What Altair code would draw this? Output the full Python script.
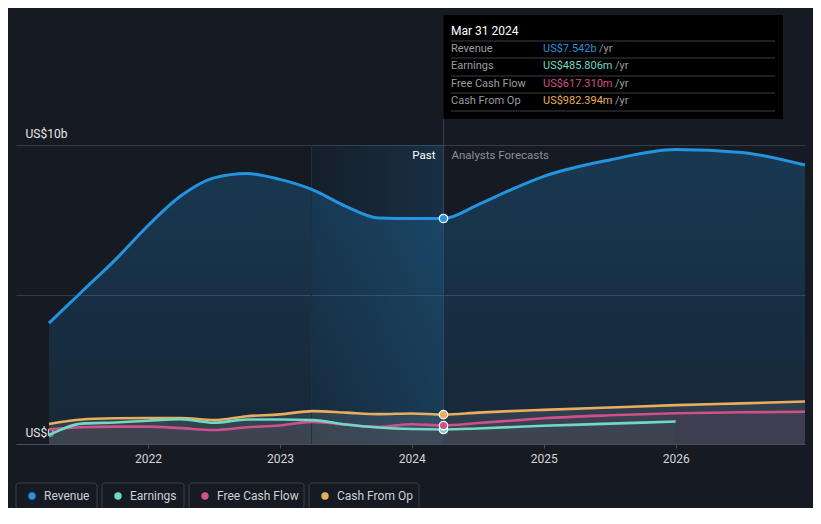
import altair as alt
import pandas as pd

# ---------------- data ----------------
dates = [2021.25, 2021.5, 2021.75, 2022.0, 2022.25, 2022.5, 2022.75, 2023.0, 2023.25,
         2023.5, 2023.75, 2024.0, 2024.24, 2024.5, 2024.75, 2025.0, 2025.5, 2026.0,
         2026.5, 2026.98]
revenue = [4.04, 5.1, 6.15, 7.3, 8.3, 8.9, 9.05, 8.85, 8.5, 7.95, 7.56, 7.54, 7.542,
           8.0, 8.5, 8.95, 9.5, 9.85, 9.75, 9.33]
fcf = [0.49, 0.56, 0.58, 0.58, 0.53, 0.47, 0.56, 0.62, 0.74, 0.65, 0.57, 0.66, 0.617,
       0.7, 0.78, 0.86, 0.96, 1.03, 1.06, 1.08]
cfo = [0.67, 0.82, 0.86, 0.87, 0.87, 0.8, 0.93, 0.99, 1.1, 1.05, 1.0, 1.02, 0.982,
       1.05, 1.1, 1.14, 1.22, 1.3, 1.36, 1.42]
earn_dates = [2021.25, 2021.5, 2021.75, 2022.0, 2022.25, 2022.5, 2022.75, 2023.0,
              2023.25, 2023.5, 2023.75, 2024.0, 2024.24, 2024.5, 2025.0, 2025.5, 2026.0]
earnings = [0.3, 0.68, 0.72, 0.78, 0.83, 0.71, 0.82, 0.82, 0.8, 0.65, 0.55, 0.5, 0.486,
            0.52, 0.61, 0.68, 0.75]

series_names = ["Revenue", "Earnings", "Free Cash Flow", "Cash From Op"]
series_colors = ["#2394df", "#6fd9c4", "#d0508a", "#e9ae5c"]
tooltip_date = "Mar 31 2024"
tooltip_values = ["US$7.542b", "US$485.806m", "US$617.310m", "US$982.394m"]
tooltip_point = [7.542, 0.486, 0.617, 0.982]
now = 2024.24
past_start = 2023.24
x_ticks = [2022, 2023, 2024, 2025, 2026]
y_ticks = [0, 5, 10]

# ---------------- layout (pixels, plot coordinates) ----------------
W, H = 789, 299
FONT = "Roboto"
BG = "#151a23"

rev_df = pd.DataFrame({"t": dates, "v": revenue})
fcf_df = pd.DataFrame({"t": dates, "v": fcf})
cfo_df = pd.DataFrame({"t": dates, "v": cfo})
earn_df = pd.DataFrame({"t": earn_dates, "v": earnings})

xscale = alt.Scale(domain=[2021.0, 2026.98], nice=False, zero=False)
yscale = alt.Scale(domain=[0, 10], nice=False)

xaxis = alt.Axis(values=x_ticks, format="d", title=None, grid=False,
                 labelColor="#d6d6d6", labelFontSize=12, labelFont=FONT,
                 tickColor="#4a505a", tickSize=4, domainColor="#4a505a",
                 labelPadding=5, labelFlush=False)
yaxis = alt.Axis(values=y_ticks, title=None, grid=True, gridColor="#353b45",
                 domain=False, ticks=False, tickSize=0,
                 labelExpr="datum.value == 10 ? 'US$10b' : (datum.value == 0 ? 'US$0' : '')",
                 labelAlign="left", labelBaseline="bottom", labelPadding=-9,
                 labelOffset=-5, labelFlush=False, labelColor="#e6e6e6",
                 labelFontSize=12, labelFont=FONT)

X = alt.X("t:Q", scale=xscale, axis=xaxis)
Y = alt.Y("v:Q", scale=yscale, axis=yaxis)

# past highlight region
hl_df = pd.DataFrame({"t": [past_start], "t2": [now], "v": [0], "v2": [10]})
highlight = alt.Chart(hl_df).mark_rect(
    color=alt.Gradient(gradient="linear", x1=0, x2=1, y1=0, y2=0,
                       stops=[alt.GradientStop(color="rgba(35,148,223,0.03)", offset=0),
                              alt.GradientStop(color="rgba(35,148,223,0.18)", offset=1)])
).encode(x=X, x2="t2:Q", y=Y, y2="v2:Q")

# revenue area + line
rev_area = alt.Chart(rev_df).mark_area(
    interpolate="monotone",
    color=alt.Gradient(gradient="linear", x1=1, x2=1, y1=0, y2=1,
                       stops=[alt.GradientStop(color="rgba(35,148,223,0.25)", offset=0),
                              alt.GradientStop(color="rgba(35,148,223,0.10)", offset=1)])
).encode(x=X, y=Y)

cfo_area = alt.Chart(cfo_df).mark_area(interpolate="monotone", color="#ffffff",
                                       opacity=0.10).encode(x=X, y=Y)
fcf_area = alt.Chart(fcf_df).mark_area(interpolate="monotone", color=series_colors[2],
                                       opacity=0.10).encode(x=X, y=Y)
earn_area = alt.Chart(earn_df).mark_area(interpolate="monotone", color="#3a4a50",
                                         opacity=0.5).encode(x=X, y=Y)

rev_line = alt.Chart(rev_df).mark_line(interpolate="monotone", color=series_colors[0],
                                       strokeWidth=3).encode(x=X, y=Y)
cfo_line = alt.Chart(cfo_df).mark_line(interpolate="monotone", color=series_colors[3],
                                       strokeWidth=2.6).encode(x=X, y=Y)
fcf_line = alt.Chart(fcf_df).mark_line(interpolate="monotone", color=series_colors[2],
                                       strokeWidth=2.6).encode(x=X, y=Y)
earn_line = alt.Chart(earn_df).mark_line(interpolate="monotone", color=series_colors[1],
                                         strokeWidth=2.6).encode(x=X, y=Y)

# vertical rules
start_rule = alt.Chart(pd.DataFrame({"t": [past_start]})).mark_rule(
    color="#22303f", strokeWidth=1).encode(x=X, y=alt.value(0), y2=alt.value(H))
now_rule = alt.Chart(pd.DataFrame({"t": [now]})).mark_rule(
    color="#34475a", strokeWidth=1).encode(x=X, y=alt.value(-26), y2=alt.value(H))

# points at "now"
pts_df = pd.DataFrame({"t": [now] * 4, "v": tooltip_point, "s": series_names})
points = alt.Chart(pts_df).mark_point(filled=True, size=70, stroke="#ffffff",
                                      strokeWidth=1.3, opacity=1).encode(
    x=X, y=Y,
    color=alt.Color("s:N", scale=alt.Scale(domain=series_names, range=series_colors),
                    legend=None),
    order=alt.Order("v:Q"))

# Past / Analysts Forecasts labels
lab_df = pd.DataFrame({"t": [now]})
past_lbl = alt.Chart(lab_df).mark_text(text="Past", align="right", dx=-8,
                                       baseline="middle", color="#ffffff",
                                       fontSize=11.5, font=FONT).encode(
    x=X, y=alt.value(11))
fc_lbl = alt.Chart(lab_df).mark_text(text="Analysts Forecasts", align="left", dx=8,
                                     baseline="middle", color="#8c9098",
                                     fontSize=11.5, font=FONT).encode(
    x=X, y=alt.value(11))

# tooltip box
tip_box = alt.Chart(lab_df).mark_rect(color="#000000").encode(
    x=X, x2=alt.value(767), y=alt.value(-130), y2=alt.value(-26))
tip_title = alt.Chart(pd.DataFrame({"txt": [tooltip_date]})).mark_text(
    align="left", baseline="middle", color="#ffffff", fontSize=12, font=FONT
).encode(text="txt:N", x=alt.value(435), y=alt.value(-114))
row_y = [-96, -79, -61, -44]
sep_y = [-104, -87, -69, -52, -34]
yr_x = [583, 599, 599, 599]
sep_df = pd.DataFrame({"y": sep_y})
tip_seps = alt.Chart(sep_df).mark_rule(color="#3c3f44", strokeWidth=1).encode(
    x=alt.value(435), x2=alt.value(759), y=alt.Y("y:Q", scale=None))
rows_df = pd.DataFrame({"name": series_names, "val": tooltip_values,
                        "c": series_colors, "y": row_y, "yx": yr_x})
tip_names = alt.Chart(rows_df).mark_text(align="left", baseline="middle",
                                         color="#9a9ca0", fontSize=11, font=FONT).encode(
    text="name:N", x=alt.value(435), y=alt.Y("y:Q", scale=None))
tip_vals = alt.Chart(rows_df).mark_text(align="left", baseline="middle",
                                        fontSize=11, font=FONT).encode(
    text="val:N", x=alt.value(527), y=alt.Y("y:Q", scale=None),
    color=alt.Color("c:N", scale=None))
tip_yr = alt.Chart(rows_df).mark_text(align="left", baseline="middle", text="/yr",
                                      color="#9a9ca0", fontSize=11, font=FONT).encode(
    x=alt.X("yx:Q", scale=None), y=alt.Y("y:Q", scale=None))

# custom legend (boxed items)
leg_x0 = [0, 86, 173, 293]
leg_x1 = [81, 168, 288, 403]
leg_df = pd.DataFrame({"name": series_names, "c": series_colors,
                       "x0": leg_x0, "x1": leg_x1,
                       "dx": [v + 16 for v in leg_x0], "tx": [v + 28 for v in leg_x0]})
leg_box = alt.Chart(leg_df).mark_rect(fill=BG, stroke="#3a3f49", strokeWidth=1,
                                      cornerRadius=3).encode(
    x=alt.X("x0:Q", scale=None), x2="x1:Q", y=alt.value(338), y2=alt.value(364))
leg_dot = alt.Chart(leg_df).mark_circle(size=55, opacity=1).encode(
    x=alt.X("dx:Q", scale=None), y=alt.value(351), color=alt.Color("c:N", scale=None))
leg_txt = alt.Chart(leg_df).mark_text(align="left", baseline="middle", color="#cfd0d3",
                                      fontSize=12, font=FONT).encode(
    x=alt.X("tx:Q", scale=None), y=alt.value(351), text="name:N")

chart = alt.layer(
    highlight, rev_area, cfo_area, fcf_area, earn_area, start_rule,
    rev_line, cfo_line, fcf_line, earn_line, now_rule, points,
    past_lbl, fc_lbl, tip_box, tip_seps, tip_title, tip_names, tip_vals, tip_yr,
    leg_box, leg_dot, leg_txt
).properties(
    width=W, height=H,
    autosize=alt.AutoSizeParams(type="none"),
    padding={"left": 8, "top": 137, "right": 8, "bottom": 64}
).configure(background=BG, font=FONT).configure_view(stroke=None)

chart.save("out.html", embed_options={"renderer": "svg", "actions": False})
